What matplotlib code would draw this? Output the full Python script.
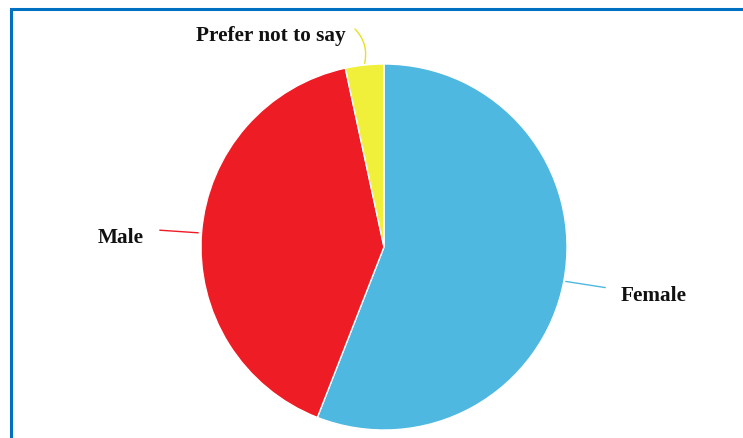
import matplotlib.pyplot as plt
from matplotlib.patches import Rectangle

# respondents by gender
labels = ['Female', 'Male', 'Prefer not to say']
counts = [33, 24, 2]
colors = ['#4FB8E0', '#EE1C24', '#F0F03A']

W, H = 743, 438
fig = plt.figure(figsize=(W / 100, H / 100), dpi=100)

# blue frame (right and bottom edges fall outside the picture)
fig.patches.append(Rectangle((10.5 / W, -0.1), 1.2, 1.1 - 9.5 / H, transform=fig.transFigure,
                             fill=False, edgecolor='#0070C0', linewidth=2.2))

cx, cy, r = 384, 247, 183
ax = fig.add_axes([(cx - r) / W, (H - cy - r) / H, 2 * r / W, 2 * r / H])
ax.pie(counts, colors=colors, startangle=90, counterclock=False,
       wedgeprops=dict(edgecolor='white', linewidth=1))
ax.set_xlim(-1, 1)
ax.set_ylim(-1, 1)
ax.set_aspect('auto')
ax.axis('off')


def px(x, y):
    return ((x - cx) / r, (cy - y) / r)


font = dict(family='Liberation Serif', fontweight='bold', fontsize=15.3, color='#111111')

ax.annotate('', xy=px(201, 233), xytext=px(157, 230),
            arrowprops=dict(arrowstyle='-', color=colors[1], lw=1), annotation_clip=False)
ax.text(*px(121, 238), labels[1], ha='center', va='center', **font)

ax.annotate('', xy=px(563, 281), xytext=px(608, 288),
            arrowprops=dict(arrowstyle='-', color=colors[0], lw=1), annotation_clip=False)
ax.text(*px(654, 296), labels[0], ha='center', va='center', **font)

ax.annotate('', xy=px(364, 66), xytext=px(353, 27),
            arrowprops=dict(arrowstyle='-', color='#E8E020', lw=1,
                            connectionstyle='arc3,rad=-0.3'), annotation_clip=False)
ax.text(*px(346, 36), labels[2], ha='right', va='center', **font)

fig.savefig('out.png', dpi=100)
